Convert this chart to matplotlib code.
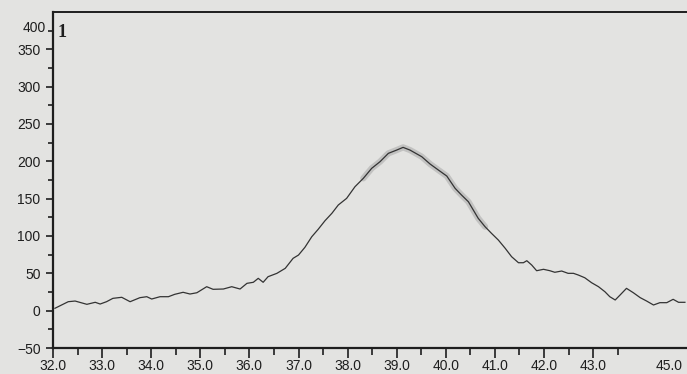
import matplotlib
matplotlib.use('Agg')
import matplotlib.pyplot as plt
import matplotlib.transforms as mtrans
import numpy as np

plt.rcParams['font.family'] = ['Liberation Sans', 'DejaVu Sans']

# trace
angle = [32.04, 32.31, 32.45, 32.69, 32.86, 32.96, 33.09, 33.22, 33.40, 33.57,
         33.77, 33.91, 34.01, 34.18, 34.35, 34.48, 34.65, 34.79, 34.93, 35.13,
         35.26, 35.47, 35.64, 35.81, 35.95, 36.08, 36.18, 36.28, 36.38, 36.56,
         36.73, 36.89, 37.00, 37.13, 37.27, 37.40, 37.54, 37.68, 37.81, 37.98,
         38.15, 38.32, 38.49, 38.66, 38.83, 39.00, 39.13, 39.27, 39.51, 39.68,
         39.85, 40.02, 40.19, 40.32, 40.46, 40.56, 40.66, 40.80, 40.93, 41.07,
         41.21, 41.34, 41.48, 41.58, 41.65, 41.75, 41.85, 41.99, 42.12, 42.22,
         42.36, 42.49, 42.60, 42.70, 42.83, 42.97, 43.11, 43.24, 43.34, 43.45,
         43.55, 43.68, 43.82, 43.96, 44.09, 44.23, 44.36, 44.50, 44.63, 44.74,
         44.87]
counts = [3.2, 12.0, 12.9, 8.5, 11.2, 8.9, 12.0, 16.5, 17.9, 12.0,
          17.4, 18.7, 15.6, 18.7, 18.7, 21.9, 24.6, 22.3, 24.0, 32.1,
          28.6, 29.0, 32.1, 29.0, 36.6, 38.0, 43.3, 38.0, 45.5, 50.0,
          56.7, 70.1, 74.5, 84.8, 99.0, 108.9, 120.5, 130.4, 141.5, 150.4,
          166.0, 177.2, 190.6, 199.5, 210.7, 215.1, 218.7, 215.1, 206.2, 196.4,
          188.3, 180.3, 163.8, 154.9, 145.9, 134.8, 123.7, 112.4, 103.6, 94.6,
          83.5, 72.3, 64.2, 64.2, 66.9, 61.1, 53.5, 55.4, 53.5, 51.4,
          53.1, 50.0, 50.0, 47.7, 44.1, 37.4, 32.1, 25.4, 18.7, 14.3,
          21.0, 29.9, 24.0, 17.4, 12.9, 7.6, 10.7, 10.7, 15.2, 11.2,
          11.2]

x_major = [32.0, 33.0, 34.0, 35.0, 36.0, 37.0, 38.0, 39.0, 40.0, 41.0, 42.0, 43.0, 45.0]
x_labels = ['32.0', '33.0', '34.0', '35.0', '36.0', '37.0', '38.0', '39.0',
            '40.0', '41.0', '42.0', '43.0', '45.0']
y_major = [-50, 0, 50, 100, 150, 200, 250, 300, 350]

paper = '#e3e3e1'
ink = '#1e1e1e'

fig = plt.figure(figsize=(6.87, 3.74), dpi=100, facecolor=paper)
ax = fig.add_axes((53/687, 26/374, 638.3/687, 336/374), facecolor=paper)
ax.set_xlim(32.0, 45.0)
ax.set_ylim(-50, 400)

angle = np.array(angle)
counts = np.array(counts)
# fuzzy band round the peak
band = (angle > 38.3) & (angle < 40.9)
ax.plot(angle[band], counts[band], color='#777777', lw=4.5, alpha=0.3,
        solid_capstyle='round')
ax.plot(angle, counts, color='#333333', lw=0.9)

ax.set_xticks(x_major)
ax.set_xticklabels(x_labels)
ax.set_xticks(np.arange(32.5, 43.6, 1.0), minor=True)
ax.set_yticks(y_major)
ax.set_yticks(np.arange(-25, 376, 50), minor=True)

ax.tick_params(which='major', direction='out', length=7, width=1.2,
               colors=ink, labelsize=10, pad=1.0)
ax.tick_params(which='minor', direction='out', length=5, width=1.2, colors=ink)
ax.tick_params(axis='y', which='major', length=5, pad=4)
ax.tick_params(axis='y', which='minor', length=3.5)

# last x label sits inside the cropped edge
lab = ax.get_xticklabels()[-1]
lab.set_transform(lab.get_transform() +
                  mtrans.ScaledTranslation(-22/100, 0, fig.dpi_scale_trans))

ax.text(-0.011, 378, '400', transform=ax.get_yaxis_transform(),
        ha='right', va='center', fontsize=10, color=ink)

ax.text(0.007, 0.965, '1', transform=ax.transAxes, ha='left', va='top',
        fontsize=13, fontweight='bold', family='Liberation Serif', color=ink)

for s in ['left', 'bottom']:
    ax.spines[s].set_linewidth(1.6)
    ax.spines[s].set_color(ink)
ax.spines['top'].set_linewidth(1.4)
ax.spines['top'].set_color(ink)
ax.spines['right'].set_visible(False)

plt.savefig('out.png', dpi=100, facecolor=paper)
